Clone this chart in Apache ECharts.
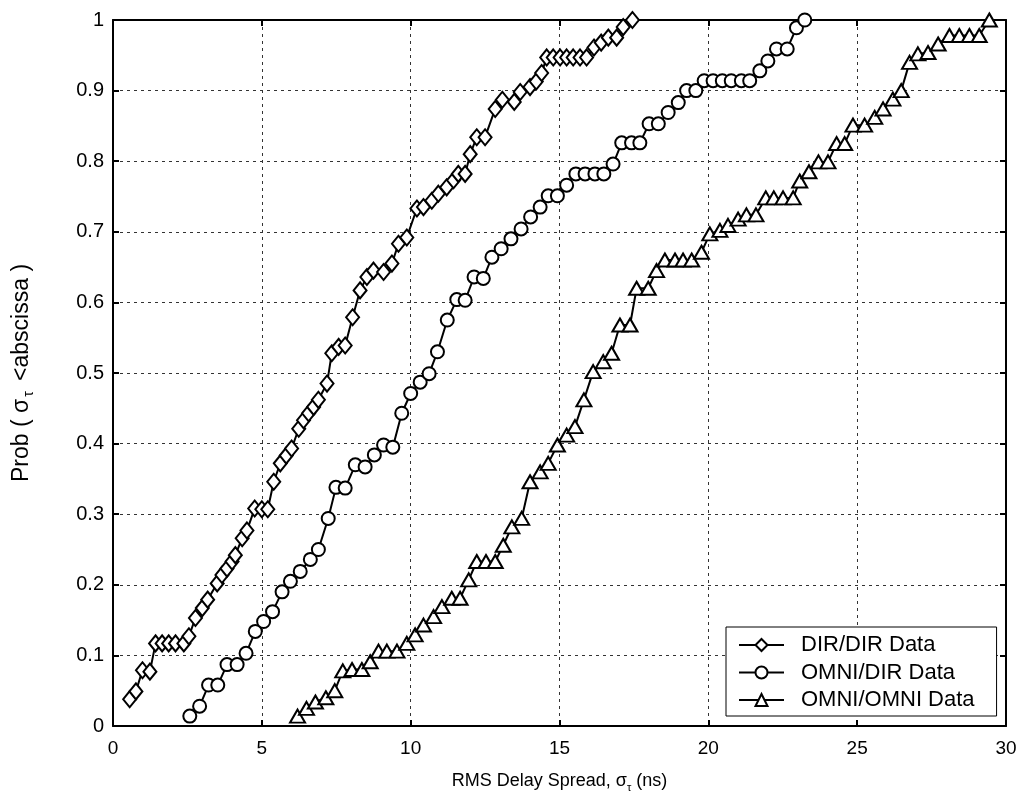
<!DOCTYPE html>
<html>
<head>
<meta charset="utf-8">
<script src="https://cdn.jsdelivr.net/npm/echarts@6/dist/echarts.min.js"></script>
<style>html,body{margin:0;padding:0;background:#fff;}#c{width:1025px;height:803px;}</style>
</head>
<body>
<div id="c"></div>
<script>
// ---- data ----
const seriesNames = ['DIR/DIR Data', 'OMNI/DIR Data', 'OMNI/OMNI Data'];

const dirX = [0.56,0.77,0.99,1.24,1.43,1.65,1.87,2.1,2.38,2.55,2.77,3.0,3.18,3.5,3.66,3.83,4.0,4.11,4.34,4.5,4.76,5.0,5.2,5.4,5.62,5.82,6.0,6.24,6.4,6.57,6.74,6.9,7.19,7.35,7.58,7.8,8.05,8.3,8.53,8.75,9.09,9.37,9.59,9.87,10.21,10.43,10.71,10.93,11.21,11.44,11.6,11.83,12.0,12.22,12.5,12.84,13.08,13.48,13.68,14.01,14.22,14.4,14.57,14.79,15.02,15.24,15.46,15.69,15.91,16.16,16.4,16.64,16.92,17.14,17.45];
const dirY = [0.038,0.049,0.079,0.077,0.117,0.117,0.117,0.117,0.117,0.127,0.153,0.167,0.179,0.202,0.214,0.223,0.233,0.242,0.266,0.277,0.308,0.307,0.307,0.346,0.372,0.383,0.393,0.421,0.433,0.443,0.452,0.462,0.485,0.528,0.537,0.539,0.579,0.617,0.636,0.645,0.643,0.655,0.683,0.692,0.733,0.735,0.744,0.754,0.763,0.773,0.782,0.782,0.81,0.834,0.834,0.874,0.887,0.884,0.898,0.905,0.913,0.925,0.947,0.947,0.947,0.947,0.947,0.947,0.947,0.961,0.968,0.975,0.975,0.99,1.0];

const omniDirX = [2.58,2.91,3.21,3.52,3.83,4.17,4.47,4.78,5.06,5.36,5.68,5.96,6.29,6.63,6.9,7.23,7.49,7.8,8.14,8.47,8.78,9.09,9.4,9.7,10.0,10.32,10.62,10.9,11.23,11.55,11.83,12.13,12.44,12.73,13.04,13.37,13.71,14.03,14.35,14.62,14.93,15.24,15.55,15.86,16.19,16.49,16.8,17.09,17.42,17.7,18.01,18.32,18.65,18.99,19.27,19.58,19.86,20.16,20.47,20.77,21.11,21.39,21.73,22.0,22.29,22.65,22.96,23.24];
const omniDirY = [0.014,0.028,0.058,0.058,0.087,0.087,0.103,0.134,0.148,0.162,0.19,0.205,0.219,0.236,0.25,0.294,0.338,0.337,0.37,0.367,0.384,0.398,0.395,0.443,0.471,0.487,0.499,0.53,0.575,0.604,0.603,0.636,0.634,0.664,0.676,0.69,0.704,0.721,0.735,0.751,0.751,0.766,0.782,0.782,0.782,0.782,0.796,0.826,0.826,0.826,0.853,0.853,0.869,0.883,0.9,0.9,0.914,0.914,0.914,0.914,0.914,0.914,0.928,0.942,0.959,0.959,0.989,1.0];

const omniOmniX = [6.2,6.5,6.8,7.15,7.45,7.72,8.03,8.36,8.64,8.92,9.2,9.54,9.87,10.15,10.43,10.77,11.05,11.38,11.66,11.95,12.22,12.53,12.84,13.11,13.4,13.73,14.01,14.35,14.62,14.93,15.24,15.52,15.82,16.13,16.47,16.75,17.03,17.37,17.59,17.98,18.26,18.54,18.88,19.15,19.44,19.77,20.05,20.39,20.66,21.0,21.28,21.6,21.93,22.2,22.51,22.85,23.07,23.38,23.7,24.02,24.31,24.58,24.86,25.25,25.59,25.87,26.2,26.48,26.76,27.04,27.38,27.72,28.1,28.43,28.77,29.1,29.44];
const omniOmniY = [0.014,0.025,0.034,0.04,0.05,0.078,0.08,0.08,0.091,0.106,0.106,0.106,0.117,0.129,0.143,0.155,0.169,0.181,0.181,0.207,0.233,0.233,0.233,0.256,0.282,0.294,0.346,0.36,0.372,0.398,0.412,0.424,0.462,0.502,0.516,0.528,0.568,0.568,0.62,0.62,0.645,0.66,0.66,0.66,0.66,0.671,0.697,0.702,0.709,0.718,0.724,0.724,0.748,0.748,0.748,0.748,0.772,0.785,0.799,0.799,0.825,0.825,0.851,0.851,0.862,0.874,0.888,0.9,0.94,0.952,0.954,0.966,0.978,0.978,0.978,0.978,1.0];

const xTicks = [0,5,10,15,20,25,30];
const yTicks = [0,0.1,0.2,0.3,0.4,0.5,0.6,0.7,0.8,0.9,1];

// ---- chart ----
const FONT = '"Liberation Sans", Arial, sans-serif';
const zip = (a, b) => a.map((v, i) => [v, b[i]]);

const chart = echarts.init(document.getElementById('c'), null, {renderer: 'canvas'});

const gridLine = {show: true, lineStyle: {color: '#333', width: 1, type: [3, 4]}};
const axisLine = {show: true, onZero: false, lineStyle: {color: '#000', width: 2}};
const tick = {show: true, inside: true, length: 6, lineStyle: {color: '#000', width: 2}};

function mkSeries(name, xs, ys, symbol, size) {
  return {
    name: name, type: 'line', data: zip(xs, ys),
    symbol: symbol, symbolSize: size, showSymbol: true,
    lineStyle: {color: '#000', width: 2},
    itemStyle: {color: '#000', borderColor: '#000', borderWidth: 2.5},
    emphasis: {disabled: true},
    z: 5
  };
}

const xRich = {
  n: {fontSize: 18, fontFamily: FONT, color: '#000'},
  s: {fontSize: 11, fontFamily: FONT, color: '#000', padding: [12, 0, 0, 0], verticalAlign: 'bottom'}
};
const yRich = {
  n: {fontSize: 23, fontFamily: FONT, color: '#000'},
  s: {fontSize: 14, fontFamily: FONT, color: '#000', padding: [15, 4, 0, 2], verticalAlign: 'bottom'}
};

chart.setOption({
  animation: false,
  backgroundColor: '#fff',
  textStyle: {fontFamily: FONT},
  grid: {left: 113, right: 19, top: 20, bottom: 77, containLabel: false},
  legend: {
    data: seriesNames,
    orient: 'vertical',
    left: 726, top: 627,
    itemWidth: 45, itemHeight: 15, itemGap: 5.5,
    padding: [7, 22, 5, 12],
    backgroundColor: '#fff',
    borderColor: '#000', borderWidth: 1,
    textStyle: {fontSize: 22, color: '#000', fontFamily: FONT, lineHeight: 22, padding: [0, 0, 0, 12]},
    selectedMode: false
  },
  xAxis: [{
    type: 'value', min: 0, max: 30, interval: 5, position: 'bottom',
    name: '{n|RMS Delay Spread, σ}{s|τ}{n| (ns)}',
    nameLocation: 'middle', nameGap: 44,
    nameTextStyle: {rich: xRich},
    axisLine: axisLine, axisTick: tick, splitLine: gridLine,
    axisLabel: {fontSize: 19, color: '#000', margin: 13, fontFamily: FONT}
  }, {
    type: 'value', min: 0, max: 30, interval: 5, position: 'top',
    axisLine: axisLine, axisTick: tick, splitLine: {show: false},
    axisLabel: {show: false}
  }],
  yAxis: [{
    type: 'value', min: 0, max: 1, interval: 0.1, position: 'left',
    name: '{n|Prob ( σ}{s|τ}{n| <abscissa )}',
    nameLocation: 'middle', nameGap: 77, nameRotate: 90,
    nameTextStyle: {rich: yRich},
    axisLine: axisLine, axisTick: tick, splitLine: gridLine,
    axisLabel: {fontSize: 20, color: '#000', margin: 9, fontFamily: FONT,
      formatter: v => String(+v.toFixed(1))}
  }, {
    type: 'value', min: 0, max: 1, interval: 0.1, position: 'right',
    axisLine: axisLine, axisTick: tick, splitLine: {show: false},
    axisLabel: {show: false}
  }],
  series: [
    mkSeries(seriesNames[0], dirX, dirY, 'emptyDiamond', [13, 16]),
    mkSeries(seriesNames[1], omniDirX, omniDirY, 'emptyCircle', 13),
    mkSeries(seriesNames[2], omniOmniX, omniOmniY, 'emptyTriangle', [15, 13])
  ]
});
</script>
</body>
</html>
